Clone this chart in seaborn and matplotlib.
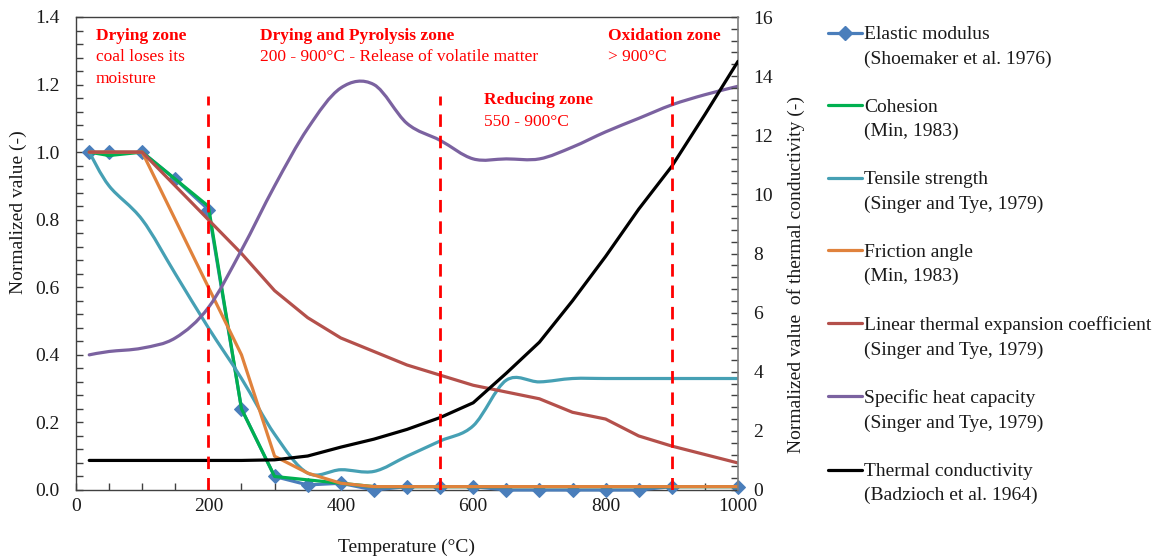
import numpy as np
import matplotlib
matplotlib.use("Agg")
import matplotlib.pyplot as plt
import seaborn as sns
from matplotlib.path import Path
from matplotlib.patches import PathPatch
from matplotlib.lines import Line2D
from matplotlib.ticker import MultipleLocator, FormatStrFormatter

# ---------------- data ----------------
em_T = [20, 50, 100, 150, 200, 250, 300, 350, 400, 450, 500, 550, 600, 650, 700, 750, 800, 850, 900, 1000]
em_v = [1.0, 1.0, 1.0, 0.92, 0.83, 0.24, 0.04, 0.015, 0.02, 0.0, 0.01, 0.01, 0.01, 0.0, 0.0, 0.0, 0.0, 0.0, 0.01, 0.01]

coh_T = [20, 50, 100, 150, 200, 250, 300, 400, 450, 500, 600, 700, 800, 900, 1000]
coh_v = [1.0, 0.99, 1.0, 0.92, 0.84, 0.24, 0.04, 0.02, 0.01, 0.01, 0.01, 0.01, 0.01, 0.01, 0.01]

ts_T = [20, 50, 100, 150, 200, 250, 300, 350, 400, 450, 500, 550, 600, 650, 700, 750, 800, 850, 900, 950, 1000]
ts_v = [1.0, 0.90, 0.80, 0.64, 0.48, 0.33, 0.165, 0.05, 0.06, 0.055, 0.10, 0.145, 0.19, 0.325, 0.32, 0.33, 0.33, 0.33, 0.33, 0.33, 0.33]

fa_T = [20, 50, 100, 150, 200, 250, 300, 350, 400, 450, 500, 600, 700, 800, 900, 1000]
fa_v = [1.0, 1.0, 1.0, 0.80, 0.60, 0.40, 0.10, 0.05, 0.02, 0.01, 0.01, 0.01, 0.01, 0.01, 0.01, 0.01]

le_T = [20, 50, 100, 150, 200, 250, 300, 350, 400, 450, 500, 550, 600, 650, 700, 750, 800, 850, 900, 950, 1000]
le_v = [1.0, 1.0, 1.0, 0.90, 0.80, 0.70, 0.59, 0.51, 0.45, 0.41, 0.37, 0.34, 0.31, 0.29, 0.27, 0.23, 0.21, 0.16, 0.13, 0.105, 0.08]

sh_T = [20, 50, 100, 150, 200, 250, 300, 350, 400, 450, 500, 550, 600, 650, 700, 750, 800, 850, 900, 950, 1000]
sh_v = [0.40, 0.41, 0.42, 0.45, 0.54, 0.71, 0.90, 1.07, 1.19, 1.20, 1.085, 1.035, 0.98, 0.98, 0.98, 1.015, 1.06, 1.10, 1.14, 1.17, 1.195]

tc_T = [20, 100, 200, 250, 300, 350, 400, 450, 500, 550, 600, 650, 700, 750, 800, 850, 900, 950, 1000]
tc_v = [1.0, 1.0, 1.0, 1.0, 1.02, 1.15, 1.45, 1.72, 2.05, 2.45, 2.95, 3.95, 5.0, 6.4, 7.9, 9.5, 10.95, 12.7, 14.5]

zone_bounds = [200, 550, 900]

legend_labels = [
    "Elastic modulus\n(Shoemaker et al. 1976)",
    "Cohesion\n(Min, 1983)",
    "Tensile strength\n(Singer and Tye, 1979)",
    "Friction angle\n(Min, 1983)",
    "Linear thermal expansion coefficient\n(Singer and Tye, 1979)",
    "Specific heat capacity\n(Singer and Tye, 1979)",
    "Thermal conductivity\n(Badzioch et al. 1964)",
]

zone_titles = ["Drying zone", "Drying and Pyrolysis zone", "Reducing zone", "Oxidation zone"]
zone_notes = [["coal loses its", "moisture"],
              ["200 - 900°C - Release of volatile matter"],
              ["550 - 900°C"],
              ["> 900°C"]]

# ---------------- style ----------------
sns.set_theme(style="white")
plt.rcParams["font.family"] = ["Liberation Serif", "DejaVu Serif"]

C_EM = "#4A7EBB"
C_COH = "#00B050"
C_TS = "#46A0B4"
C_FA = "#E0823C"
C_LE = "#B4504B"
C_SH = "#7B62A0"
C_TC = "#000000"
C_ZONE = "#FF0000"
LW = 2.3


def smooth_path(x, y):
    """Excel-like smoothed line (Catmull-Rom as cubic Bezier) through the data points."""
    x = np.asarray(x, float)
    y = np.asarray(y, float)
    n = len(x)
    verts = [(x[0], y[0])]
    codes = [Path.MOVETO]
    for i in range(n - 1):
        i0 = max(i - 1, 0)
        i3 = min(i + 2, n - 1)
        c1 = (x[i] + (x[i + 1] - x[i0]) / 6.0, y[i] + (y[i + 1] - y[i0]) / 6.0)
        c2 = (x[i + 1] - (x[i3] - x[i]) / 6.0, y[i + 1] - (y[i3] - y[i]) / 6.0)
        verts += [c1, c2, (x[i + 1], y[i + 1])]
        codes += [Path.CURVE4] * 3
    return Path(verts, codes)


fig = plt.figure(figsize=(11.59, 5.57), dpi=100)
ax = fig.add_axes([76 / 1159, 1 - 490 / 557, 662 / 1159, 473 / 557])
ax2 = ax.twinx()

# ---------------- series ----------------
sns.lineplot(x=em_T, y=em_v, ax=ax, color=C_EM, lw=LW, marker="D", markersize=7,
             markeredgecolor=C_EM, estimator=None, sort=False, clip_on=False, zorder=3)
sns.lineplot(x=coh_T, y=coh_v, ax=ax, color=C_COH, lw=LW, estimator=None, sort=False, zorder=4)

ax.add_patch(PathPatch(smooth_path(ts_T, ts_v), facecolor="none", edgecolor=C_TS, lw=LW,
                       capstyle="round", joinstyle="round", zorder=5))
sns.lineplot(x=fa_T, y=fa_v, ax=ax, color=C_FA, lw=LW, estimator=None, sort=False, zorder=6)
sns.lineplot(x=le_T, y=le_v, ax=ax, color=C_LE, lw=LW, estimator=None, sort=False, zorder=7)
ax.add_patch(PathPatch(smooth_path(sh_T, sh_v), facecolor="none", edgecolor=C_SH, lw=LW,
                       capstyle="round", joinstyle="round", zorder=8))

sns.lineplot(x=tc_T, y=tc_v, ax=ax2, color=C_TC, lw=LW, estimator=None, sort=False, zorder=3)

# zone boundaries
for xb in zone_bounds:
    ax2.plot([xb, xb], [0, 1.165 / 1.4 * 16], color=C_ZONE, lw=2.0, dashes=(4.5, 3.2), zorder=4)

# zone annotations (positions in data units)
title_pos = [(30, 1.333), (278, 1.333), (616, 1.142), (803, 1.333)]
note_step = 0.064
for title, notes, (tx, ty) in zip(zone_titles, zone_notes, title_pos):
    ax.text(tx, ty, title, color=C_ZONE, fontsize=12.5, fontweight="bold", va="baseline", ha="left", zorder=10)
    for k, line in enumerate(notes):
        ax.text(tx, ty - note_step * (k + 1), line, color=C_ZONE, fontsize=12.5, va="baseline", ha="left", zorder=10)

# ---------------- axes ----------------
ax.set_xlim(0, 1000)
ax.set_ylim(0, 1.4)
ax2.set_ylim(0, 16)
ax.xaxis.set_major_locator(MultipleLocator(200))
ax.xaxis.set_minor_locator(MultipleLocator(50))
ax.yaxis.set_major_locator(MultipleLocator(0.2))
ax.yaxis.set_minor_locator(MultipleLocator(0.04))
ax.yaxis.set_major_formatter(FormatStrFormatter("%.1f"))
ax2.yaxis.set_major_locator(MultipleLocator(2))
ax2.yaxis.set_minor_locator(MultipleLocator(0.4))

for a in (ax, ax2):
    a.tick_params(which="both", direction="in", length=5, width=1, color="#404040", labelsize=14,
                  labelcolor="#1a1a1a")
ax.tick_params(axis="y", which="both", left=True, right=False, pad=12)
ax.tick_params(axis="x", which="both", bottom=True, top=False, pad=6)
ax2.tick_params(axis="y", which="both", right=True, left=False, pad=11)
ax2.tick_params(axis="x", which="both", bottom=False, top=False)

for name, sp in ax.spines.items():
    sp.set_visible(True)
    sp.set_color("#404040")
    sp.set_linewidth(1.0)
for name, sp in ax2.spines.items():
    sp.set_visible(name == "right")
    sp.set_color("#808080")
    sp.set_linewidth(1.2)
ax.spines["right"].set_visible(False)

ax.set_xlabel("Temperature (°C)", fontsize=14, color="#1a1a1a")
ax.set_ylabel("Normalized value (-)", fontsize=14, color="#1a1a1a")
ax2.set_ylabel("Normalized value  of thermal conductivity (-)", fontsize=14, color="#1a1a1a")
ax.xaxis.set_label_coords(0.5, -0.102)
ax.yaxis.set_label_coords(-0.074, 0.588)
ax2.yaxis.set_label_coords(1.074, 0.455)

# ---------------- legend ----------------
handles = [
    Line2D([], [], color=C_EM, lw=LW, marker="D", markersize=7, markeredgecolor=C_EM),
    Line2D([], [], color=C_COH, lw=LW),
    Line2D([], [], color=C_TS, lw=LW),
    Line2D([], [], color=C_FA, lw=LW),
    Line2D([], [], color=C_LE, lw=LW),
    Line2D([], [], color=C_SH, lw=LW),
    Line2D([], [], color=C_TC, lw=LW),
]
leg = fig.legend(handles, legend_labels, loc="upper left", bbox_to_anchor=(828 / 1159, 1 - 26 / 557),
                 frameon=False, fontsize=14, handlelength=1.75, handletextpad=0.1,
                 labelspacing=1.59, borderpad=0, borderaxespad=0, numpoints=1)
for col in leg._legend_handle_box.get_children():
    for item in col.get_children():
        item.align = "top"
for t in leg.get_texts():
    t.set_color("#1a1a1a")
    t.set_linespacing(1.55)

fig.savefig("out.png", dpi=100)
